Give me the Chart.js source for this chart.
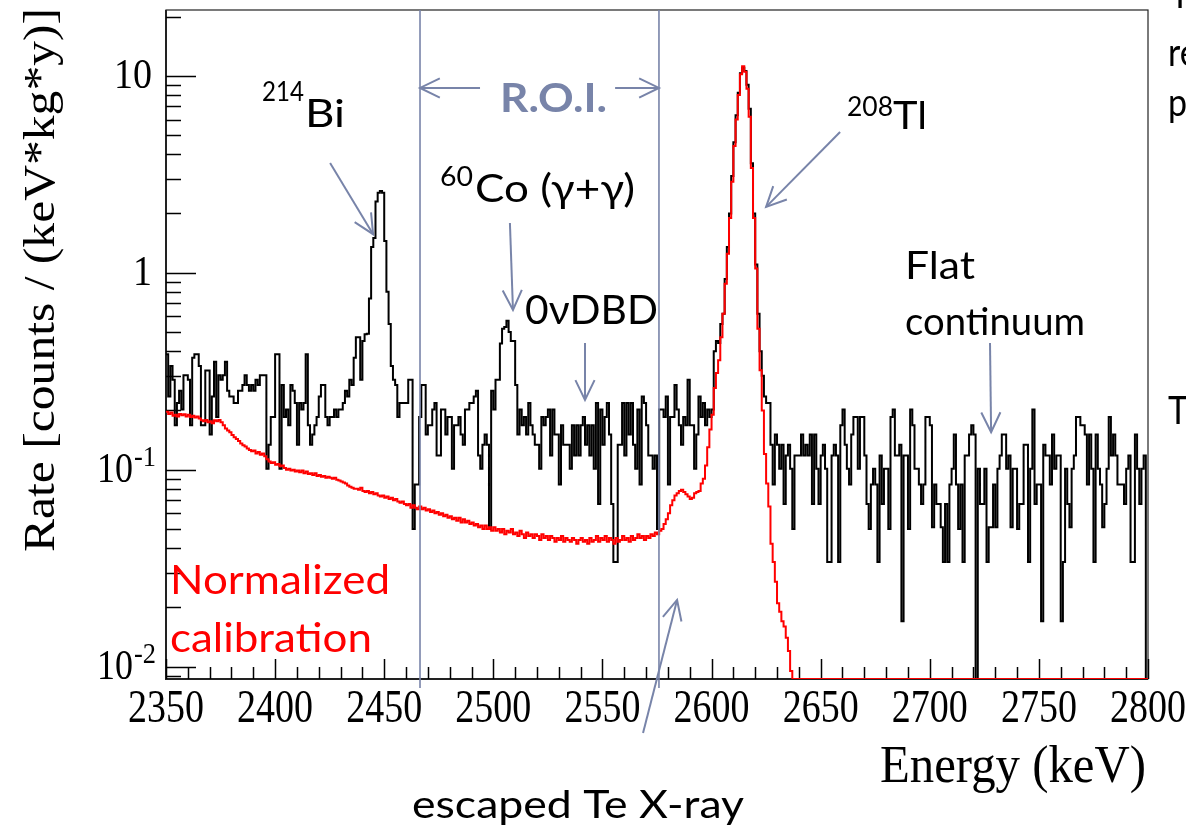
<!DOCTYPE html>
<html>
<head>
<meta charset="utf-8">
<script src="https://cdn.jsdelivr.net/npm/chart.js@4.4.1/dist/chart.umd.min.js"></script>
<style>
  html, body { margin: 0; padding: 0; background: #fff; }
  #wrap { width: 1186px; height: 827px; }
</style>
</head>
<body>
<div id="wrap"><canvas id="spectrum" width="1186" height="827"></canvas></div>
<script>
// Energy binning of both histograms (1 keV bins, low edges from 2350 keV)
const binStart = 2350;
const binWidth = 1;

// Measured background rate, counts / (keV*kg*y), one value per bin
const dataRate = [
  .386,.235,.336,.286,.168,.218,.252,.202,.302,.302,
  .286,.168,.37,.386,.386,.336,.168,.168,.319,.319,
  .151,.235,.353,.185,.302,.286,.302,.353,.252,.235,
  .235,.218,.218,.252,.252,.269,.302,.269,.252,.269,
  .252,.286,.269,.302,.302,.302,.101,.134,.185,.185,
  .386,.386,.101,.269,.185,.202,.168,.269,.252,.218,
  .134,.218,.202,.218,.386,.168,.134,.151,.168,.185,
  .235,.269,.269,.185,.168,.185,.185,.202,.185,.202,
  .202,.218,.252,.235,.286,.269,.37,.47,.47,.286,
  .45,.487,.49,.74,1.35,1.5,2.3,2.55,2.6,2.55,
  1.45,.8,.55,.336,.286,.269,.185,.218,.218,.218,
  .218,.286,.286,.05,.084,.084,.185,.269,.269,.151,
  .168,.168,.202,.218,.118,.118,.202,.202,.151,.185,
  .185,.101,.168,.168,.185,.151,.134,.202,.202,.218,
  .218,.235,.252,.118,.101,.134,.151,.134,.05,.252,
  .202,.286,.286,.437,.52,.53,.57,.5,.45,.45,
  .269,.151,.202,.168,.185,.151,.218,.168,.151,.134,
  .134,.101,.185,.168,.185,.202,.118,.202,.151,.151,
  .084,.168,.134,.134,.134,.101,.168,.118,.168,.118,
  .168,.185,.134,.168,.118,.168,.101,.218,.067,.202,
  .134,.185,.218,.151,.067,.034,.034,.134,.134,.218,
  .118,.218,.151,.218,.134,.101,.202,.084,.235,.218,
  .168,.118,.118,.101,.118,.05,.202,.202,.185,.235,
  .084,.185,.185,.269,.202,.168,.134,.185,.168,.286,
  .168,.168,.101,.151,.235,.185,.218,.168,.202,.185,
  .202,.40,.45,.44,.55,.62,.93,1.35,2.0,3.1,
  4.6,6.3,8.2,10.3,11.0,10.6,9.0,6.8,3.6,2.0,
  1.1,.62,.40,.30,.235,.218,.218,.134,.084,.151,
  .134,.101,.134,.067,.118,.134,.101,.05,.118,.118,
  .118,.151,.118,.134,.118,.151,.067,.151,.101,.067,
  .118,.134,.101,.034,.034,.118,.134,.118,.034,.168,
  .202,.134,.101,.084,.151,.185,.185,.101,.185,.185,
  .118,.067,.05,.084,.101,.084,.034,.118,.067,.101,
  .101,.05,.185,.202,.118,.118,.134,.017,.118,.118,
  .05,.202,.168,.101,.101,.084,.067,.084,.185,.185,
  .168,.051,.084,.067,.067,.051,.034,.067,.034,.084,
  .101,.151,.084,.05,.084,.034,.118,.118,.151,.168,
  .151,0,.101,.067,.067,.101,.034,.051,.051,.084,
  .051,.101,.118,.151,.151,.101,.118,.051,.101,.101,
  .05,.067,.067,.134,.134,.034,.101,.202,.067,.084,
  .084,.017,.134,.118,.118,.084,.151,.101,.118,.118,
  .017,.034,.101,.067,.051,.101,.118,.185,.185,.168,
  .168,.151,.084,.151,.101,.034,.151,.101,.084,.051,
  .067,.101,.185,.118,.151,.118,.084,.084,.084,.067,
  .101,.118,.034,.034,.151,.101,.067,.101,.118,0
];

// Normalized calibration spectrum, same bins
const calibRate = [
  .197,.192,.195,.188,.190,.186,.192,.189,.191,.186,
  .190,.185,.188,.184,.186,.182,.178,.176,.179,.174,
  .176,.172,.178,.176,.179,.174,.168,.162,.158,.155,
  .150,.146,.143,.140,.136,.133,.131,.128,.126,.124,
  .125,.121,.123,.119,.121,.117,.113,.110,.108,.109,
  .106,.107,.104,.105,.102,.100,.101,.099,.100,.098,
  .099,.097,.099,.096,.098,.095,.096,.094,.096,.093,
  .094,.092,.093,.091,.092,.091,.090,.091,.089,.088,
  .087,.086,.085,.083,.082,.081,.080,.080,.079,.081,
  .078,.077,.078,.076,.077,.075,.076,.074,.073,.074,
  .072,.073,.071,.072,.070,.071,.069,.068,.069,.067,
  .066,.067,.064,.066,.064,.063,.065,.063,.064,.062,
  .063,.061,.062,.060,.061,.059,.060,.058,.059,.057,
  .058,.056,.057,.055,.057,.054,.056,.054,.055,.053,
  .054,.052,.053,.051,.052,.050,.052,.050,.051,.049,
  .051,.049,.050,.048,.050,.047,.049,.048,.050,.047,
  .048,.046,.049,.047,.045,.048,.046,.047,.045,.047,
  .046,.044,.047,.045,.046,.044,.046,.045,.043,.045,
  .044,.046,.043,.045,.044,.043,.045,.044,.042,.044,
  .045,.043,.044,.042,.045,.043,.044,.046,.043,.045,
  .044,.046,.043,.045,.044,.042,.045,.043,.044,.046,
  .044,.045,.043,.046,.044,.045,.047,.045,.046,.044,
  .046,.045,.047,.046,.048,.047,.049,.050,.053,.056,
  .060,.066,.070,.074,.076,.078,.079,.077,.075,.073,
  .071,.072,.076,.077,.078,.085,.090,.105,.130,.160,
  .19,.26,.31,.36,.47,.62,.88,1.25,1.9,2.9,
  4.4,6.0,8.0,10.2,11.2,10.5,8.6,6.2,3.4,1.9,
  1.05,.52,.32,.2,.12,.085,.065,.042,.034,.027,
  .021,.019,.017,.016,.014,.012,.0095,0,0,0,
  0,0,0,0,0,0,0,0,0,0,
  0,0,0,0,0,0,0,0,0,0,
  0,0,0,0,0,0,0,0,0,0,
  0,0,0,0,0,0,0,0,0,0,
  0,0,0,0,0,0,0,0,0,0,
  0,0,0,0,0,0,0,0,0,0,
  0,0,0,0,0,0,0,0,0,0,
  0,0,0,0,0,0,0,0,0,0,
  0,0,0,0,0,0,0,0,0,0,
  0,0,0,0,0,0,0,0,0,0,
  0,0,0,0,0,0,0,0,0,0,
  0,0,0,0,0,0,0,0,0,0,
  0,0,0,0,0,0,0,0,0,0,
  0,0,0,0,0,0,0,0,0,0,
  0,0,0,0,0,0,0,0,0,0,
  0,0,0,0,0,0,0,0,0,0
];

// Axis ranges and tick labels
const energyMin = 2350, energyMax = 2800;
const rateMin = 0.00865, rateMax = 21.6;
const energyTicks = [2350, 2400, 2450, 2500, 2550, 2600, 2650, 2700, 2750, 2800];
const rateTicks = [0.01, 0.1, 1, 10];
const rateTickText = [['10', '-2'], ['10', '-1'], ['1', ''], ['10', '']];

// Region of interest (keV) and annotation arrows [energy, rate] -> [energy, rate]
const roiEdges = [2466.4, 2575.9];
const arrows = [
  [[2425.2, 3.61], [2444.9, 1.57]],
  [[2507.6, 1.79], [2509.0, 0.647]],
  [[2542.0, 0.44], [2542.0, 0.226]],
  [[2658.9, 5.19], [2625.0, 2.16]],
  [[2727.6, 0.44], [2728.1, 0.155]],
  [[2568.6, 0.0046], [2584.2, 0.0218]],
  [[2493.9, 8.68], [2466.4, 8.68]],
  [[2555.8, 8.68], [2575.9, 8.68]]
];

// histogram as step points; empty bins sit on the axis floor like ROOT draws them
function toSteps(values) {
  const pts = values.map((v, i) => ({ x: binStart + i * binWidth, y: v > 0 ? v : rateMin }));
  const last = values[values.length - 1];
  pts.push({ x: binStart + values.length * binWidth, y: last > 0 ? last : rateMin });
  return pts;
}

const SERIF = '"Liberation Serif", "DejaVu Serif", serif';
const SANS = 'Lato, "Open Sans", sans-serif';
const SLATE = '#7884a9';

// draw text with its advance squeezed/stretched to a given width
function txt(ctx, s, x, y, size, opts) {
  opts = opts || {};
  ctx.save();
  ctx.font = (opts.bold ? 'bold ' : '') + size + 'px ' + (opts.family || SANS);
  ctx.fillStyle = opts.color || '#000';
  ctx.textBaseline = 'alphabetic';
  ctx.textAlign = 'left';
  const m = ctx.measureText(s).width;
  const sx = opts.width ? opts.width / m : 1;
  ctx.translate(x, y);
  if (opts.rotate) ctx.rotate(opts.rotate);
  ctx.scale(sx, opts.sy || 1.15);
  let dx = 0;
  if (opts.align === 'center') dx = -m / 2;
  if (opts.align === 'right') dx = -m;
  ctx.fillText(s, dx, 0);
  ctx.restore();
}

function arrowHead(ctx, x0, y0, x1, y1, len, ang) {
  const a = Math.atan2(y1 - y0, x1 - x0);
  ctx.beginPath();
  ctx.moveTo(x1 - len * Math.cos(a - ang), y1 - len * Math.sin(a - ang));
  ctx.lineTo(x1, y1);
  ctx.lineTo(x1 - len * Math.cos(a + ang), y1 - len * Math.sin(a + ang));
  ctx.stroke();
}

const decorations = {
  id: 'decorations',
  // frame and ticks go under the histograms
  beforeDatasetsDraw(chart) {
    const ctx = chart.ctx;
    const xs = chart.scales.x, ys = chart.scales.y;
    const a = chart.chartArea;

    ctx.save();
    ctx.strokeStyle = '#222';
    ctx.lineWidth = 1.2;
    ctx.strokeRect(a.left, a.top, a.right - a.left, a.bottom - a.top);
    ctx.lineWidth = 2;
    ctx.beginPath();
    ctx.moveTo(a.left, a.top); ctx.lineTo(a.left, a.bottom); ctx.lineTo(a.right, a.bottom);
    ctx.stroke();

    // x ticks, inward
    ctx.lineWidth = 1.5;
    ctx.strokeStyle = '#000';
    ctx.beginPath();
    for (let e = energyMin; e <= energyMax; e += 10) {
      const px = Math.round(xs.getPixelForValue(e)) + 0.5;
      const len = (e % 50 === 0) ? 20 : 12;
      ctx.moveTo(px, a.bottom); ctx.lineTo(px, a.bottom - len);
    }
    // y ticks, inward
    for (let d = 0.001; d < 100; d *= 10) {
      for (let m = 1; m <= 9; m++) {
        const v = m * d;
        if (v < rateMin || v > rateMax) continue;
        const py = Math.round(ys.getPixelForValue(v)) + 0.5;
        ctx.moveTo(a.left, py); ctx.lineTo(a.left + (m === 1 ? 30 : 15), py);
      }
    }
    ctx.stroke();
    ctx.restore();
  },
  afterDatasetsDraw(chart) {
    const ctx = chart.ctx;
    const xs = chart.scales.x, ys = chart.scales.y;
    const a = chart.chartArea;

    // tick labels
    energyTicks.forEach(e => {
      txt(ctx, String(e), xs.getPixelForValue(e), 722, 38, { family: SERIF, width: 76, align: 'center', sy: 1.2 });
    });
    rateTicks.forEach((v, i) => {
      const py = ys.getPixelForValue(v);
      const [base, sup] = rateTickText[i];
      if (sup) {
        txt(ctx, base, 133, py + 12, 38, { family: SERIF, width: 36, align: 'right', sy: 1.1 });
        txt(ctx, sup, 134, py - 4, 26, { family: SERIF, width: 22, sy: 1.1 });
      } else {
        txt(ctx, base, 152, py + 12, 38, { family: SERIF, width: base.length * 19, align: 'right', sy: 1.1 });
      }
    });

    // axis titles
    txt(ctx, 'Energy (keV)', 880, 782, 46, { family: SERIF, width: 266, sy: 1.15 });
    txt(ctx, 'Rate [counts / (keV*kg*y)]', 54, 552, 44, { family: SERIF, width: 544, sy: 1.0, rotate: -Math.PI / 2 });

    // ROI boundaries
    ctx.save();
    ctx.strokeStyle = SLATE;
    ctx.lineWidth = 1.6;
    roiEdges.forEach(e => {
      const px = xs.getPixelForValue(e);
      ctx.beginPath();
      ctx.moveTo(px, a.top);
      ctx.lineTo(px, a.bottom + 9);
      ctx.stroke();
    });

    // arrows
    ctx.lineWidth = 2;
    arrows.forEach(([p0, p1]) => {
      const x0 = xs.getPixelForValue(p0[0]), y0 = ys.getPixelForValue(p0[1]);
      const x1 = xs.getPixelForValue(p1[0]), y1 = ys.getPixelForValue(p1[1]);
      ctx.beginPath(); ctx.moveTo(x0, y0); ctx.lineTo(x1, y1); ctx.stroke();
      arrowHead(ctx, x0, y0, x1, y1, 22, 0.45);
    });
    ctx.restore();

    // annotations
    txt(ctx, 'R.O.I.', 500, 112, 34, { bold: true, color: SLATE, width: 107 });
    txt(ctx, '214', 262, 101, 24, { width: 42 });
    txt(ctx, 'Bi', 305, 127, 34, { width: 40 });
    txt(ctx, '60', 440, 186, 24, { width: 33 });
    txt(ctx, 'Co (\u03b3+\u03b3)', 475, 202, 34, { width: 160 });
    txt(ctx, '0\u03bdDBD', 525, 324, 36, { width: 133 });
    txt(ctx, '208', 847, 116, 24, { width: 46 });
    txt(ctx, 'Tl', 893, 129, 34, { width: 34 });
    txt(ctx, 'Flat', 905, 279, 34, { width: 70 });
    txt(ctx, 'continuum', 905, 335, 34, { width: 180 });
    txt(ctx, 'Normalized', 170, 594, 36, { width: 220, color: '#ff0000' });
    txt(ctx, 'calibration', 170, 652, 36, { width: 202, color: '#ff0000' });
    txt(ctx, 'escaped Te X-ray', 412, 818, 34, { width: 332 });

    // slide text cut off at the right edge
    txt(ctx, 'T', 1170, 8, 34);
    txt(ctx, 're', 1168, 66, 34);
    txt(ctx, 'p', 1168, 116, 34);
    txt(ctx, 'T', 1168, 424, 34);
  }
};

new Chart(document.getElementById('spectrum'), {
  type: 'line',
  data: {
    datasets: [
      {
        label: 'Normalized calibration',
        data: toSteps(calibRate),
        borderColor: '#ff0000',
        borderWidth: 2,
        stepped: true,
        pointRadius: 0,
        fill: false
      },
      {
        label: 'Data',
        data: toSteps(dataRate),
        borderColor: '#000000',
        borderWidth: 2,
        stepped: true,
        pointRadius: 0,
        fill: false
      }
    ]
  },
  options: {
    responsive: false,
    animation: false,
    devicePixelRatio: 1,
    layout: { padding: { top: 10, right: 38, left: 0, bottom: 0 } },
    plugins: { legend: { display: false }, tooltip: { enabled: false } },
    scales: {
      x: {
        type: 'linear', min: energyMin, max: energyMax,
        grid: { display: false }, border: { display: false },
        ticks: { display: false },
        afterFit(scale) { scale.height = 148; }
      },
      y: {
        type: 'logarithmic', min: rateMin, max: rateMax,
        grid: { display: false }, border: { display: false },
        ticks: { display: false },
        afterFit(scale) { scale.width = 166; }
      }
    }
  },
  plugins: [decorations]
});
</script>
</body>
</html>
